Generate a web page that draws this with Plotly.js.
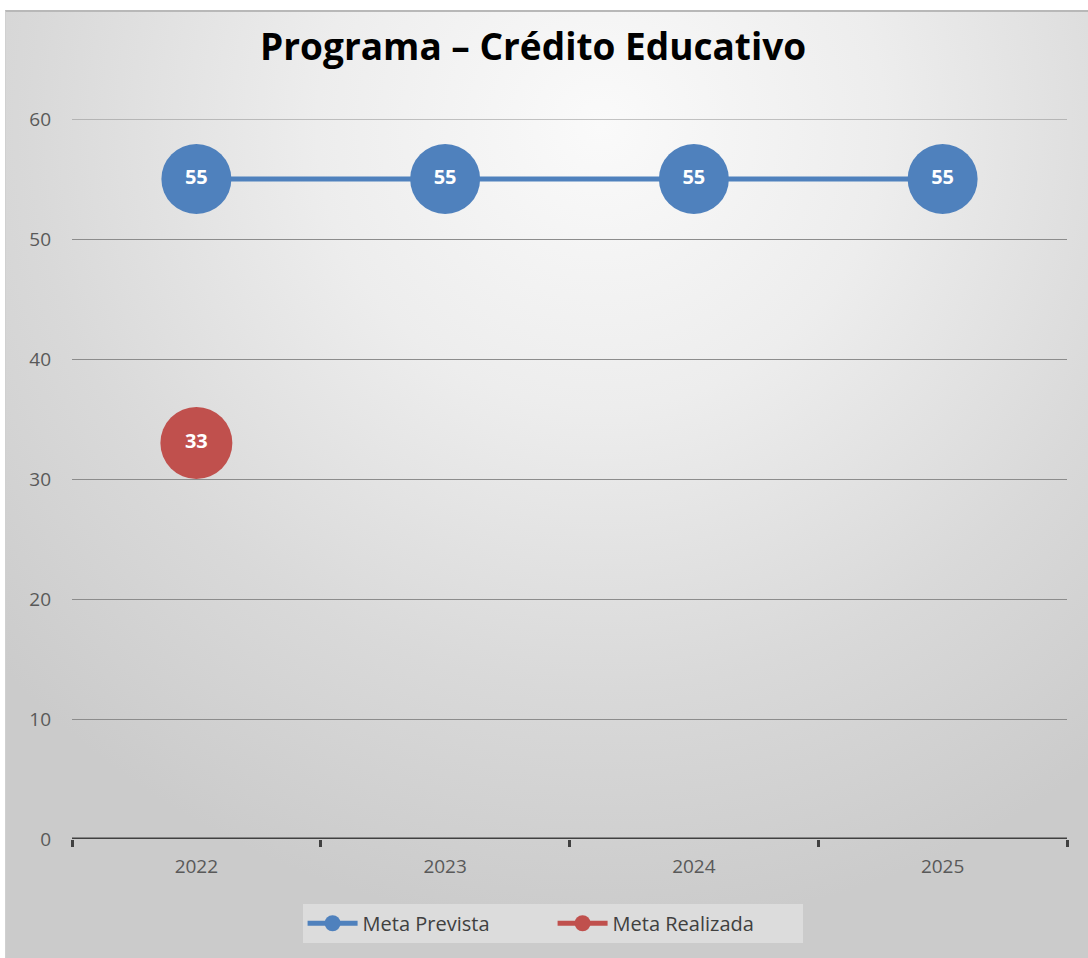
<!DOCTYPE html>
<html>
<head>
<meta charset="utf-8">
<script src="https://cdn.plot.ly/plotly-3.0.1.min.js"></script>
<style>
html,body{margin:0;padding:0;background:#fff;width:1088px;height:958px;overflow:hidden;}
#bg{position:absolute;left:5px;top:10px;width:1083px;height:948px;
 background:radial-gradient(ellipse 75% 85% at 55% 12%, #fafafa 0%, #ededed 35%, #d9d9d9 70%, #cbcbcb 100%);
 border-top:2px solid #b8b8b8;border-left:1px solid #d0d0d0;box-sizing:border-box;}
#chart{position:absolute;left:0;top:0;width:1088px;height:958px;}
</style>
</head>
<body>
<div id="bg"></div>
<div id="chart"></div>
<script>
const categories = ['2022','2023','2024','2025'];
const metaPrevista = [55,55,55,55];
const metaRealizada = [33,null,null,null];
const yTicks = [0,10,20,30,40,50,60];

const blue = '#4f81bd';
const red = '#c0504d';

const traces = [
  {x:categories, y:metaPrevista, name:'Meta Prevista', type:'scatter', mode:'lines+markers',
   line:{color:blue,width:5}, marker:{color:blue,size:70}, cliponaxis:false},
  {x:categories, y:metaRealizada, name:'Meta Realizada', type:'scatter', mode:'lines+markers',
   line:{color:red,width:5}, marker:{color:red,size:72}, cliponaxis:false},
  {x:categories, y:metaPrevista, type:'scatter', mode:'text', text:metaPrevista.map(String),
   textposition:'middle center', textfont:{color:'#ffffff',size:20,family:'Open Sans',weight:'bold'},
   showlegend:false, hoverinfo:'skip', cliponaxis:false},
  {x:categories, y:metaRealizada, type:'scatter', mode:'text', text:metaRealizada.map(v=>v==null?'':String(v)),
   textposition:'middle center', textfont:{color:'#ffffff',size:20,family:'Open Sans',weight:'bold'},
   showlegend:false, hoverinfo:'skip', cliponaxis:false}
];

const yMax = yTicks[yTicks.length-1];

const layout = {
  width:1088, height:958,
  paper_bgcolor:'rgba(0,0,0,0)', plot_bgcolor:'rgba(0,0,0,0)',
  margin:{l:72, r:21, t:119, b:119},
  title:{text:'<b>Programa – Crédito Educativo</b>', x:0.49, xanchor:'center', y:0.951, yanchor:'middle',
    font:{family:'Open Sans', size:37, color:'#000000'}},
  font:{family:'Open Sans', color:'#595959'},
  xaxis:{type:'category', range:[-0.5,3.5], tickson:'boundaries', ticks:'outside', ticklen:7, tickwidth:3,
    tickcolor:'#404040', showline:false, showgrid:false, zeroline:false, ticklabelstandoff:14,
    tickfont:{size:19, color:'#595959'}, fixedrange:true},
  yaxis:{range:[0,yMax], tickvals:yTicks, ticktext:yTicks.map(String), showgrid:true, gridcolor:'#8c8c8c', gridwidth:1,
    zeroline:false, showline:false, ticks:'', ticklabelstandoff:20,
    tickfont:{size:19, color:'#595959'}, fixedrange:true},
  shapes:[
    {type:'line', xref:'paper', yref:'y', x0:0, x1:1, y0:yMax, y1:yMax, line:{color:'#8c8c8c', width:1}, layer:'below'},
    {type:'line', xref:'paper', yref:'y', x0:0, x1:1, y0:0, y1:0, line:{color:'#404040', width:3}}
  ],
  legend:{orientation:'h', x:0.483, xanchor:'center', y:-0.117, yanchor:'middle',
    bgcolor:'#dcdcdc', font:{size:20, color:'#404040', family:'Open Sans'},
    itemwidth:50, entrywidth:185, traceorder:'normal', borderwidth:0},
  showlegend:true
};

Plotly.newPlot('chart', traces, layout, {staticPlot:true});
</script>
</body>
</html>
